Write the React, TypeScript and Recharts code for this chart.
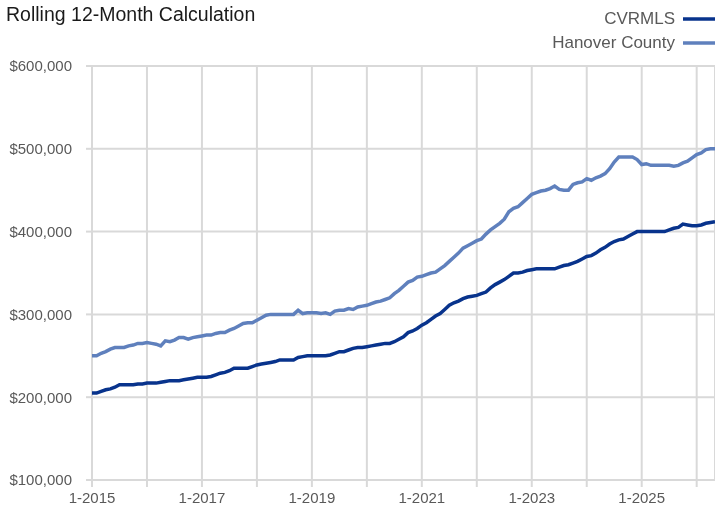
import React from "react";
import { LineChart, Line, XAxis, YAxis, CartesianGrid, Legend } from "recharts";

const cvrmls = [
  205, 205, 207, 209, 210, 212, 215, 215, 215, 215, 216, 216,
  217, 217, 217, 218, 219, 220, 220, 220, 221, 222, 223, 224,
  224, 224, 225, 227, 229, 230, 232, 235, 235, 235, 235, 237,
  239, 240, 241, 242, 243, 245, 245, 245, 245, 248, 249, 250,
  250, 250, 250, 250, 251, 253, 255, 255, 257, 259, 260, 260,
  261, 262, 263, 264, 265, 265, 267, 270, 273, 278, 280, 283,
  287, 290, 294, 298, 301, 306, 311, 314, 316, 319, 321, 322,
  323, 325, 327, 332, 336, 339, 342, 346, 350, 350, 351, 353,
  354, 355, 355, 355, 355, 355, 357, 359, 360, 362, 364, 367,
  370, 371, 374, 378, 381, 385, 388, 390, 391, 394, 397, 400,
  400, 400, 400, 400, 400, 400, 402, 404, 405, 409, 408, 407,
  407, 408, 410, 411, 412,
];

const hanover = [
  250, 250, 253, 255, 258, 260, 260, 260, 262, 263, 265, 265,
  266, 265, 264, 262, 268, 267, 269, 272, 272, 270, 272, 273,
  274, 275, 275, 277, 278, 278, 281, 283, 286, 289, 290, 290,
  293, 296, 299, 300, 300, 300, 300, 300, 300, 305, 301, 302,
  302, 302, 301, 302, 300, 304, 305, 305, 307, 306, 309, 310,
  311, 313, 315, 316, 318, 320, 325, 329, 334, 339, 341, 345,
  346, 348, 350, 351, 355, 359, 364, 369, 374, 380, 383, 386,
  389, 391, 397, 402, 406, 410, 415, 424, 428, 430, 435, 440,
  445, 447, 449, 450, 452, 455, 451, 450, 450, 457, 459, 460,
  464, 462, 465, 467, 470, 476, 484, 490, 490, 490, 490, 487,
  481, 482, 480, 480, 480, 480, 480, 479, 480, 483, 485, 489,
  493, 495, 499, 500, 500,
];

const startYear = 2015;
const xTicks = [0, 12, 24, 36, 48, 60, 72, 84, 96, 108, 120, 132];
const xTickLabels = ["1-2015", "", "1-2017", "", "1-2019", "", "1-2021", "", "1-2023", "", "1-2025", ""];
const yTicks = [100000, 200000, 300000, 400000, 500000, 600000];

const seriesNames = ["CVRMLS", "Hanover County"];
const colors = ["#08338c", "#5f80bd"];

const data = cvrmls.map((v, i) => ({
  m: i,
  label: `${(i % 12) + 1}-${startYear + Math.floor(i / 12)}`,
  cvrmls: v * 1000,
  hanover: hanover[i] * 1000,
}));

const FONT = "'Liberation Sans', Arial, sans-serif";
const TEXT = "#595959";

const fmtY = (v: number) => "$" + v.toLocaleString("en-US");
const fmtX = (v: number) => {
  const idx = xTicks.indexOf(v);
  return idx >= 0 ? xTickLabels[idx] : "";
};

const LegendContent = () => (
  <div style={{ height: 58, textAlign: "right", fontFamily: FONT, fontSize: 17, color: TEXT }}>
    {seriesNames.map((n, i) => (
      <div key={n} style={{ height: 24, lineHeight: "24px", display: "flex", justifyContent: "flex-end", alignItems: "center" }}>
        <span>{n}</span>
        <svg width={40} height={24} style={{ display: "block" }}>
          <line x1={8} y1={12} x2={40} y2={12} stroke={colors[i]} strokeWidth={3.5} />
        </svg>
      </div>
    ))}
  </div>
);

export default function App() {
  return (
    <div style={{ position: "fixed", left: 0, top: 0, width: 715, height: 515, fontFamily: FONT }}>
      <div
        style={{
          position: "absolute",
          top: 2.5,
          left: 6,
          fontSize: 19.5,
          lineHeight: "22px",
          color: "#1a1a1a",
          zIndex: 2,
          whiteSpace: "nowrap",
        }}
      >
        Rolling 12-Month Calculation
      </div>
      <LineChart width={715} height={507} data={data} margin={{ top: 8, right: 0, bottom: 0, left: 8 }}>
        <Legend verticalAlign="top" align="right" content={<LegendContent />} wrapperStyle={{ top: 7 }} />
        <CartesianGrid stroke="#d9d9d9" strokeWidth={2} />
        <XAxis
          dataKey="m"
          type="number"
          domain={[0, 136]}
          ticks={xTicks}
          interval={0}
          tickFormatter={fmtX}
          height={27}
          tickSize={7}
          tickMargin={5}
          axisLine={{ stroke: "#d9d9d9", strokeWidth: 2 }}
          tickLine={{ stroke: "#d9d9d9", strokeWidth: 2 }}
          tick={{ fill: TEXT, fontSize: 15, fontFamily: FONT }}
        />
        <YAxis
          type="number"
          domain={[100000, 600000]}
          ticks={yTicks}
          interval={0}
          width={84}
          tickFormatter={fmtY}
          tickSize={6}
          tickMargin={14}
          axisLine={false}
          tickLine={{ stroke: "#d9d9d9", strokeWidth: 2 }}
          tick={{ fill: TEXT, fontSize: 15, fontFamily: FONT }}
        />
        <Line
          type="linear"
          dataKey="cvrmls"
          name={seriesNames[0]}
          stroke={colors[0]}
          strokeWidth={3.5}
          dot={false}
          isAnimationActive={false}
        />
        <Line
          type="linear"
          dataKey="hanover"
          name={seriesNames[1]}
          stroke={colors[1]}
          strokeWidth={3.5}
          dot={false}
          isAnimationActive={false}
        />
      </LineChart>
    </div>
  );
}
